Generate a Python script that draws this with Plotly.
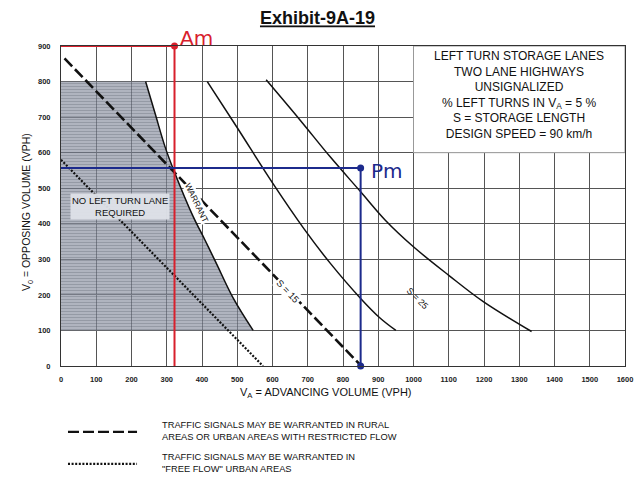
import plotly.graph_objects as go

# ---- data ----
x_ticks = list(range(0, 1700, 100))
y_ticks = list(range(0, 1000, 100))

warrant_x = [240, 267, 295, 320, 375, 408, 440, 489, 545]
warrant_y = [800, 710, 617, 550, 420, 355, 290, 190, 100]

shade_x = [0, 0] + warrant_x + [0]
shade_y = [100, 800] + warrant_y + [100]

mid_x = [415, 500, 600, 690, 763, 850, 905, 950]
mid_y = [800, 670, 515, 385, 290, 190, 135, 100]

right_x = [582, 678, 763, 850, 920, 999, 1100, 1198, 1335]
right_y = [805, 692, 589, 490, 410, 336, 255, 181, 97]

rural_x = [10, 852]       # dashed: signals warranted, rural
rural_y = [865, 0]

urban_x = [0, 573]        # dotted: signals warranted, free-flow urban
urban_y = [580, 0]

am_x = [0, 322, 322]
am_y = [900, 900, 0]

pm_x = [0, 850, 850]
pm_y = [557, 557, 0]

FONT = "Liberation Sans, Arial, sans-serif"
RED = "#d8202c"
BLUE = "#1c2a8c"

fig = go.Figure()

# shaded "no left turn lane" area
fig.add_trace(go.Scatter(
    x=shade_x, y=shade_y, mode="lines", fill="toself",
    line=dict(width=0, color="rgba(0,0,0,0)"),
    fillcolor="rgba(130,136,152,0.65)",
    fillpattern=dict(shape="-", fgcolor="rgba(65,70,82,0.55)",
                     bgcolor="rgba(135,141,158,0.66)", size=3, solidity=0.3),
    hoverinfo="skip", showlegend=False))

# solid curves
for xs, ys in [(warrant_x, warrant_y), (mid_x, mid_y), (right_x, right_y)]:
    fig.add_trace(go.Scatter(x=xs, y=ys, mode="lines",
                             line=dict(color="#111", width=1.5, shape="spline", smoothing=1.0),
                             showlegend=False))

# dashed and dotted lines
fig.add_trace(go.Scatter(x=rural_x, y=rural_y, mode="lines",
                         line=dict(color="#111", width=2.6, dash="11px,4px"),
                         showlegend=False))
fig.add_trace(go.Scatter(x=urban_x, y=urban_y, mode="lines",
                         line=dict(color="#111", width=2.2, dash="2px,1.6px"),
                         showlegend=False))

# red and blue hand-drawn lines
fig.add_trace(go.Scatter(x=am_x, y=am_y, mode="lines",
                         line=dict(color=RED, width=2), showlegend=False, cliponaxis=False))
fig.add_trace(go.Scatter(x=[am_x[1]], y=[am_y[1]], mode="markers",
                         marker=dict(color=RED, size=7), showlegend=False, cliponaxis=False))
fig.add_trace(go.Scatter(x=pm_x, y=pm_y, mode="lines",
                         line=dict(color=BLUE, width=2), showlegend=False, cliponaxis=False))
fig.add_trace(go.Scatter(x=[pm_x[1], pm_x[2]], y=[pm_y[1], pm_y[2]], mode="markers",
                         marker=dict(color=BLUE, size=7), showlegend=False, cliponaxis=False))

# info box
fig.add_shape(type="rect", x0=1000, x1=1600, y0=600, y1=900,
              fillcolor="white", line=dict(color="#999", width=1), layer="above")
fig.add_annotation(x=1300, y=761, xref="x", yref="y", showarrow=False,
                   text="LEFT TURN STORAGE LANES<br>TWO LANE HIGHWAYS<br>UNSIGNALIZED<br>"
                        "% LEFT TURNS IN V<sub>A</sub> = 5 %<br>S = STORAGE LENGTH<br>DESIGN SPEED = 90 km/h",
                   font=dict(family=FONT, size=12, color="#111"), align="center")

# labels inside chart
fig.add_annotation(x=167, y=450, showarrow=False,
                   text="NO LEFT TURN LANE<br>REQUIRED",
                   font=dict(family=FONT, size=9.5, color="#111"),
                   bgcolor="rgba(222,225,232,0.95)", borderpad=1)
fig.add_annotation(x=385, y=458, showarrow=False, text="WARRANT", textangle=64,
                   font=dict(family=FONT, size=8.5, color="#111"), bgcolor="white", borderpad=0)
fig.add_annotation(x=645, y=210, showarrow=False, text="S = 15", textangle=46,
                   font=dict(family=FONT, size=9.5, color="#111"), bgcolor="white", borderpad=1)
fig.add_annotation(x=1009, y=190, showarrow=False, text="S = 25", textangle=45,
                   font=dict(family=FONT, size=9, color="#111"))

# handwritten markers
fig.add_annotation(x=0.241, y=1.025, xref="paper", yref="paper", showarrow=False, text="Am",
                   xanchor="center", yanchor="middle",
                   font=dict(family="DejaVu Sans", size=20, color=RED))
fig.add_annotation(x=925, y=548, showarrow=False, text="Pm",
                   font=dict(family="DejaVu Sans", size=20, color=BLUE))

# axis titles
fig.add_annotation(x=0.47, y=-0.084, xref="paper", yref="paper", showarrow=False,
                   xanchor="center", yanchor="middle",
                   text="V<sub>A</sub> = ADVANCING VOLUME (VPH)",
                   font=dict(family=FONT, size=11, color="#111"))
fig.add_annotation(x=-0.059, y=0.48, xref="paper", yref="paper", showarrow=False,
                   xanchor="center", yanchor="middle",
                   text="V<sub>0</sub> = OPPOSING VOLUME (VPH)", textangle=-90,
                   font=dict(family=FONT, size=10.5, color="#111"))

# bottom legend
fig.add_shape(type="line", xref="paper", yref="paper", x0=0.0124, x1=0.1348, y0=-0.206, y1=-0.206,
              line=dict(color="#111", width=2.2, dash="11px,4px"))
fig.add_shape(type="line", xref="paper", yref="paper", x0=0.0124, x1=0.1348, y0=-0.306, y1=-0.306,
              line=dict(color="#111", width=2.2, dash="2px,1.6px"))
fig.add_annotation(x=0.1755, y=-0.2016, xref="paper", yref="paper", showarrow=False,
                   xanchor="left", yanchor="middle", align="left",
                   text="TRAFFIC SIGNALS MAY BE WARRANTED IN RURAL<br>AREAS OR URBAN AREAS WITH RESTRICTED FLOW",
                   font=dict(family=FONT, size=9.3, color="#111"))
fig.add_annotation(x=0.1755, y=-0.3016, xref="paper", yref="paper", showarrow=False,
                   xanchor="left", yanchor="middle", align="left",
                   text="TRAFFIC SIGNALS MAY BE WARRANTED IN<br>\"FREE FLOW\" URBAN AREAS",
                   font=dict(family=FONT, size=9.3, color="#111"))

fig.update_layout(
    width=635, height=478,
    margin=dict(l=61, r=10, t=46, b=112, autoexpand=False),
    paper_bgcolor="white", plot_bgcolor="white",
    title=dict(text="<b><u>Exhibit-9A-19</u></b>", x=0.5, xanchor="center", y=0.962, yanchor="middle",
               font=dict(family=FONT, size=18, color="#111")),
    showlegend=False,
)
fig.update_xaxes(range=[0, 1600], tickvals=x_ticks, ticktext=[str(v) for v in x_ticks],
                 automargin=False,
                 showgrid=True, gridcolor="#555", gridwidth=1, zeroline=False,
                 showline=True, linecolor="#333", linewidth=1, mirror=True,
                 tickfont=dict(family=FONT, size=7.5, color="#222", weight="bold"),
                 ticks="", ticklabelstandoff=6)
fig.update_yaxes(range=[0, 900], tickvals=y_ticks, ticktext=[str(v) for v in y_ticks],
                 automargin=False,
                 showgrid=True, gridcolor="#555", gridwidth=1, zeroline=False,
                 showline=True, linecolor="#333", linewidth=1, mirror=True,
                 tickfont=dict(family=FONT, size=7.5, color="#222", weight="bold"),
                 ticks="", ticklabelstandoff=8)

# remove the page's default body margin so the 635x478 figure fills the window exactly
fig.write_html("out.html", config={"displayModeBar": False},
               post_script="document.body.style.margin='0';document.body.style.overflow='hidden';")
